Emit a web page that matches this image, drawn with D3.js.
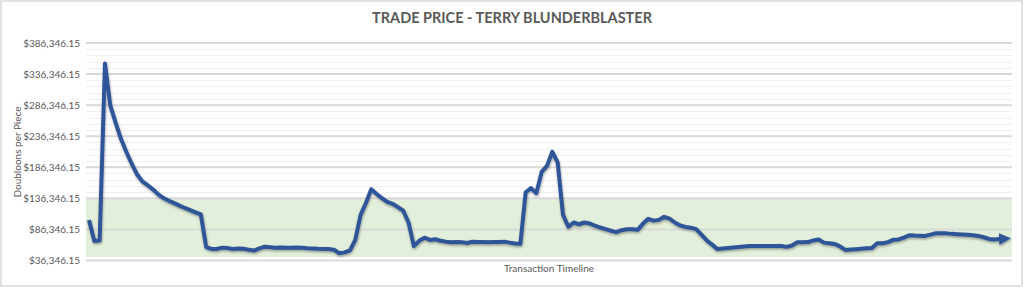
<!DOCTYPE html>
<html>
<head>
<meta charset="utf-8">
<script src="https://cdn.jsdelivr.net/npm/d3@7"></script>
<style>
  html, body { margin: 0; padding: 0; background: #fff; }
  svg { display: block; }
</style>
</head>
<body>
<svg id="chart" width="1024" height="288"></svg>
<script>
// trade prices, one per transaction
const prices = [
  101700, 67800, 68500, 353300, 285500, 258300, 232200, 211300, 192500, 175200,
  163800, 157500, 150900, 142800, 136800, 132600, 128600, 124700, 120900, 117500,
  113900, 110500, 58000, 54900, 54900, 57000, 56500, 54700, 55500, 55200,
  53800, 52300, 55800, 58600, 57800, 56800, 57300, 56700, 56800, 57300,
  56700, 55900, 55500, 55100, 54900, 54900, 53600, 48000, 49400, 52600,
  69400, 109700, 128900, 150900, 143300, 136700, 130700, 127600, 122300, 116500,
  97500, 59700, 68000, 73100, 69400, 70700, 68100, 66700, 65900, 66300,
  65700, 64400, 66500, 66300, 66000, 65700, 66000, 66300, 66700, 65100,
  63800, 63100, 146200, 152800, 144600, 178900, 188600, 211300, 194200, 110100,
  90700, 97500, 94700, 97500, 96000, 92300, 89400, 86800, 84200, 82000,
  85100, 86700, 86500, 85700, 95400, 103400, 100500, 101700, 106700, 103700,
  97500, 92800, 90400, 89200, 86800, 78000, 68600, 61800, 54700, 55500,
  56300, 57200, 58000, 58900, 59700, 59700, 59700, 59700, 59700, 59700,
  59600, 58300, 60500, 65700, 65700, 66000, 68600, 70200, 65100, 64100,
  63000, 59200, 53300, 53900, 54600, 55200, 55900, 56500, 64100, 64100,
  65900, 69600, 70200, 73100, 77000, 76500, 76200, 75900, 78000, 80200,
  80200, 80000, 79200, 78600, 78100, 77600, 76800, 75900, 73800, 71000,
  70100, 71000, 71500
];

const majorTicks = [36346.15, 86346.15, 136346.15, 186346.15, 236346.15, 286346.15, 336346.15, 386346.15];
const minorStep = 10000;
// shaded "normal" range
const bandLow = 42000;
const bandHigh = 136346.15;

const title = "TRADE PRICE - TERRY BLUNDERBLASTER";
const yTitle = "Doubloons per Piece";
const xTitle = "Transaction Timeline";

const svg = d3.select("#chart");
const plotLeft = 86, plotRight = 1012;
const textColor = "#595959";

const y = d3.scaleLinear()
  .domain([majorTicks[0], majorTicks[majorTicks.length - 1]])
  .range([260.5, 43]);

const x = d3.scaleLinear()
  .domain([0, prices.length - 1])
  .range([89, 1005]);

// chart border
svg.append("rect")
  .attr("x", 1).attr("y", 1)
  .attr("width", 1021).attr("height", 285)
  .style("fill", "#fff")
  .style("stroke", "#d9d9d9")
  .style("stroke-width", 1.5);

// minor gridlines
const minorTicks = d3.range(majorTicks[0] + minorStep, majorTicks[majorTicks.length - 1], minorStep)
  .filter(v => Math.abs((v - majorTicks[0]) % 50000) > 1);
svg.append("g")
  .selectAll("line")
  .data(minorTicks)
  .enter()
  .append("line")
  .attr("x1", plotLeft).attr("x2", plotRight)
  .attr("y1", d => Math.round(y(d)) + 0.5)
  .attr("y2", d => Math.round(y(d)) + 0.5)
  .style("stroke", "#efefef")
  .style("stroke-width", 1);

// green band
svg.append("rect")
  .attr("x", plotLeft)
  .attr("y", y(bandHigh))
  .attr("width", plotRight - plotLeft)
  .attr("height", y(bandLow) - y(bandHigh))
  .style("fill", "#e2efda");

// major gridlines
svg.append("g")
  .selectAll("line")
  .data(majorTicks)
  .enter()
  .append("line")
  .attr("x1", plotLeft).attr("x2", plotRight)
  .attr("y1", d => y(d))
  .attr("y2", d => y(d))
  .style("stroke", "#d9d9d9")
  .style("stroke-width", 2);

// y axis labels
const yAxis = d3.axisLeft(y)
  .tickValues(majorTicks)
  .tickFormat(d3.format("$,.2f"))
  .tickSize(0)
  .tickPadding(0);
const yg = svg.append("g")
  .attr("transform", "translate(80,0)")
  .call(yAxis);
yg.select(".domain").remove();
yg.selectAll("text")
  .style("font-family", "Lato, 'Open Sans', sans-serif")
  .style("font-size", "10px")
  .style("fill", textColor);

// drop shadow and arrow for the line
const defs = svg.append("defs");
const filter = defs.append("filter")
  .attr("id", "shadow")
  .attr("x", "-5%").attr("y", "-5%")
  .attr("width", "110%").attr("height", "120%");
filter.append("feDropShadow")
  .attr("dx", 0.5).attr("dy", 1.5)
  .attr("stdDeviation", 1)
  .attr("flood-color", "#000")
  .attr("flood-opacity", 0.35);

defs.append("marker")
  .attr("id", "arrow")
  .attr("viewBox", "0 0 10 10")
  .attr("refX", 5).attr("refY", 5)
  .attr("markerWidth", 3).attr("markerHeight", 3)
  .attr("orient", "auto")
  .append("path")
  .attr("d", "M0,0 L10,5 L0,10 Z")
  .style("fill", "#2f5597");

const line = d3.line()
  .x((d, i) => x(i))
  .y(d => y(d));

svg.append("path")
  .datum(prices)
  .attr("d", line)
  .attr("marker-end", "url(#arrow)")
  .attr("filter", "url(#shadow)")
  .style("fill", "none")
  .style("stroke", "#2f5597")
  .style("stroke-width", 4)
  .style("stroke-linejoin", "round");

// titles
svg.append("text")
  .attr("x", 512).attr("y", 23)
  .attr("text-anchor", "middle")
  .style("font-family", "Lato, 'Open Sans', sans-serif")
  .style("font-weight", "bold")
  .style("font-size", "14.5px")
  .style("fill", textColor)
  .text(title);

svg.append("text")
  .attr("transform", "translate(21,152) rotate(-90)")
  .attr("text-anchor", "middle")
  .style("font-family", "Lato, 'Open Sans', sans-serif")
  .style("font-size", "10px")
  .style("fill", textColor)
  .text(yTitle);

svg.append("text")
  .attr("x", (plotLeft + plotRight) / 2).attr("y", 272)
  .attr("text-anchor", "middle")
  .style("font-family", "Lato, 'Open Sans', sans-serif")
  .style("font-size", "10px")
  .style("fill", textColor)
  .text(xTitle);
</script>
</body>
</html>
